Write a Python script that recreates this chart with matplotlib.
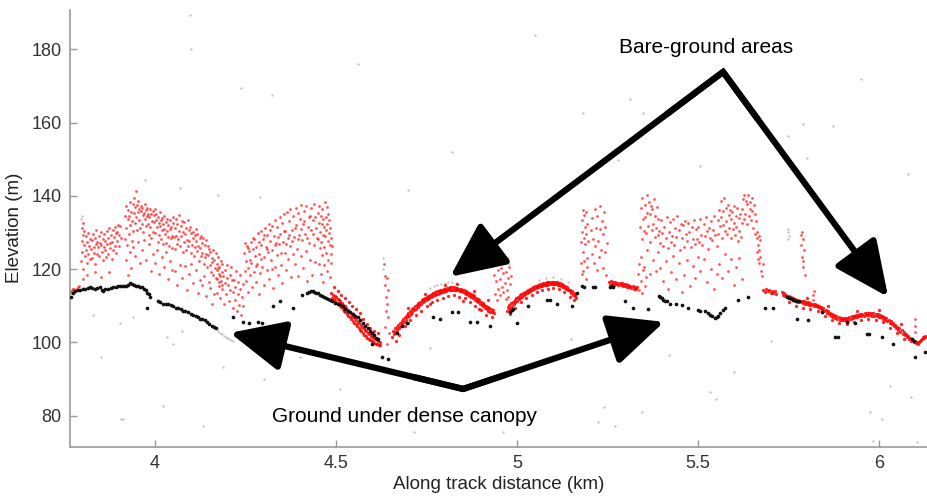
import matplotlib
matplotlib.use("Agg")
import matplotlib.pyplot as plt
import numpy as np

plt.rcParams['font.family'] = ['Liberation Sans', 'DejaVu Sans']

# ---- photon returns: (along-track km, elevation m) ----
ground_pts = [
    (3.768, 112.5), (3.773, 113.6), (3.779, 113.9), (3.786, 114.2), (3.793, 114.4), (3.800, 114.7),
    (3.807, 114.7), (3.814, 114.9), (3.820, 115.0), (3.827, 114.8), (3.834, 114.7), (3.841, 114.9),
    (3.848, 115.0), (3.853, 114.4), (3.856, 113.9), (3.862, 114.5), (3.870, 114.7), (3.877, 114.9),
    (3.884, 115.0), (3.891, 115.1), (3.898, 115.3), (3.904, 115.4), (3.909, 115.5), (3.915, 115.4),
    (3.920, 115.5), (3.926, 115.8), (3.931, 116.1), (3.937, 115.9), (3.942, 115.8), (3.948, 115.5),
    (3.953, 115.3), (3.959, 115.1), (3.964, 115.0), (3.970, 114.6), (3.975, 114.2), (3.979, 113.6),
    (3.983, 113.1), (3.986, 112.3), (3.978, 109.5), (4.008, 111.2), (4.015, 110.9), (4.022, 110.6),
    (4.029, 110.5), (4.036, 110.4), (4.043, 110.1), (4.050, 109.8), (4.057, 109.5), (4.064, 109.3),
    (4.071, 109.0), (4.077, 108.7), (4.084, 108.5), (4.091, 108.2), (4.098, 107.8), (4.105, 107.4),
    (4.112, 107.1), (4.119, 106.8), (4.125, 106.5), (4.130, 106.3), (4.137, 106.0), (4.144, 105.7),
    (4.150, 105.1), (4.157, 104.6), (4.163, 104.2), (4.169, 103.8),
    (4.215, 106.8), (4.243, 105.7), (4.260, 105.4), (4.285, 105.7), (4.296, 105.4), (4.326, 109.8),
    (4.345, 111.2), (4.381, 109.5), (4.406, 112.8),
    (4.420, 113.4), (4.425, 113.7), (4.430, 113.9), (4.435, 113.9), (4.440, 113.8), (4.445, 113.6),
    (4.450, 113.4), (4.455, 113.0), (4.460, 112.6), (4.466, 112.3), (4.472, 112.0), (4.478, 111.9),
    (4.483, 111.7), (4.490, 111.2), (4.497, 110.8), (4.504, 110.6), (4.511, 110.4), (4.518, 109.8),
    (4.525, 109.2), (4.532, 108.7), (4.539, 108.4), (4.546, 107.8), (4.553, 107.3), (4.561, 106.8),
    (4.567, 106.0), (4.574, 105.3), (4.580, 104.6), (4.587, 103.9), (4.593, 103.2), (4.599, 102.5),
    (4.605, 101.9), (4.611, 101.3), (4.616, 100.8),
    (4.599, 99.5), (4.627, 95.9), (4.644, 95.4),
    (4.669, 102.7), (4.682, 104.4), (4.696, 105.4), (4.768, 106.8), (4.787, 106.5), (4.820, 108.4),
    (4.837, 108.4), (4.870, 105.7), (4.890, 105.7), (4.925, 104.6),
    (4.981, 108.4), (4.985, 108.8), (4.989, 109.0), (5.000, 105.4), (5.030, 109.8), (5.083, 111.7),
    (5.091, 111.7), (5.110, 110.6), (5.152, 109.8), (5.166, 113.6), (5.180, 115.3), (5.184, 115.1),
    (5.210, 115.0), (5.214, 115.1), (5.258, 115.2), (5.262, 115.3), (5.266, 115.0),
    (5.298, 111.2), (5.320, 109.5), (5.362, 109.0), (5.393, 112.6), (5.396, 112.3), (5.399, 112.0),
    (5.403, 111.7), (5.409, 111.4), (5.414, 111.2), (5.423, 110.4), (5.439, 110.4), (5.456, 110.1),
    (5.472, 109.5), (5.500, 108.9), (5.506, 108.7), (5.519, 108.7), (5.528, 107.9), (5.534, 107.4),
    (5.539, 107.1), (5.546, 106.6), (5.552, 106.8), (5.556, 107.3), (5.561, 107.9), (5.568, 108.8),
    (5.575, 109.5), (5.610, 111.7), (5.638, 112.3),
    (5.685, 109.5), (5.707, 109.5),
    (5.746, 112.3), (5.750, 112.1), (5.754, 112.0), (5.758, 111.8), (5.762, 111.7), (5.766, 111.5),
    (5.771, 111.4), (5.775, 111.3), (5.779, 111.2),
    (5.773, 106.3), (5.804, 106.0), (5.843, 108.4), (5.878, 101.4), (5.887, 101.4), (5.912, 105.7),
    (5.934, 105.4), (5.967, 102.2), (5.972, 102.2), (6.008, 101.6), (6.039, 99.5), (6.091, 100.8),
    (6.097, 100.5), (6.099, 95.9), (6.127, 97.3),
]

canopy_west = [
    (3.766, 113.5), (3.768, 114.0), (3.770, 114.0), (3.772, 114.5), (3.774, 114.5),
    (3.782, 114.5), (3.786, 115.0), (3.790, 115.5), (3.800, 117.2), (3.812, 118.4), (3.833, 119.3),
    (3.850, 117.8), (3.872, 119.1),
    (3.795, 122.3), (3.797, 127.6), (3.798, 131.2), (3.799, 124.8), (3.800, 129.4), (3.801, 132.5),
    (3.802, 120.1), (3.803, 126.7), (3.805, 130.3), (3.806, 123.5), (3.808, 128.9), (3.810, 125.2),
    (3.811, 121.6), (3.813, 127.3), (3.815, 124.1), (3.816, 129.8), (3.818, 126.4), (3.820, 122.7),
    (3.821, 128.2), (3.823, 125.6), (3.825, 127.9), (3.826, 123.1), (3.828, 129.5), (3.830, 126.0),
    (3.831, 124.4), (3.833, 128.6), (3.835, 121.3), (3.836, 126.8), (3.838, 130.7), (3.840, 124.2),
    (3.841, 127.5), (3.843, 125.9), (3.845, 129.1), (3.846, 123.7), (3.848, 127.2), (3.850, 126.5),
    (3.851, 130.1), (3.853, 124.6), (3.855, 128.3), (3.856, 122.4), (3.858, 126.1), (3.860, 129.6),
    (3.861, 125.3), (3.863, 127.8), (3.865, 123.2), (3.866, 130.4), (3.868, 126.9), (3.870, 128.5),
    (3.871, 124.0), (3.873, 131.3), (3.875, 127.1), (3.876, 125.7), (3.878, 129.2), (3.880, 122.8),
    (3.881, 127.4), (3.883, 130.6), (3.885, 125.1), (3.886, 128.7), (3.888, 131.5), (3.890, 126.2),
    (3.891, 129.9), (3.893, 124.5), (3.895, 130.0), (3.896, 127.7), (3.898, 132.1), (3.900, 126.3),
    (3.901, 129.3), (3.903, 131.8), (3.905, 128.4),
    (3.917, 128.2), (3.918, 134.6), (3.920, 131.3), (3.921, 137.1), (3.923, 126.5), (3.924, 133.8),
    (3.926, 136.2), (3.927, 129.7), (3.929, 134.4), (3.930, 138.3), (3.932, 131.9), (3.933, 135.5),
    (3.935, 127.6), (3.936, 133.1), (3.938, 137.7), (3.939, 130.4), (3.941, 135.2), (3.942, 139.4),
    (3.944, 132.6), (3.945, 136.9), (3.947, 134.1), (3.948, 141.2), (3.950, 137.4), (3.951, 130.8),
    (3.953, 135.7), (3.954, 138.6), (3.956, 133.3), (3.957, 136.5), (3.959, 131.1), (3.960, 135.9),
    (3.962, 137.2), (3.963, 132.4), (3.965, 136.7), (3.966, 134.8), (3.968, 130.2), (3.969, 135.3),
    (3.971, 137.9), (3.972, 133.6), (3.974, 136.1), (3.975, 131.7), (3.977, 134.5), (3.978, 136.8),
    (3.980, 132.2), (3.981, 135.0), (3.983, 129.4), (3.984, 134.3), (3.986, 136.4), (3.987, 131.5),
    (3.989, 134.9), (3.990, 128.6), (3.992, 133.2), (3.993, 135.8), (3.995, 130.1), (3.996, 134.7),
    (3.998, 132.8), (3.999, 136.3), (4.001, 129.9), (4.002, 133.5), (4.004, 135.1), (4.005, 131.4),
    (4.007, 127.3), (4.008, 134.2), (4.010, 132.7), (4.011, 129.2), (4.013, 135.6), (4.014, 131.8),
    (4.016, 133.4), (4.017, 128.1), (4.019, 134.0), (4.020, 130.6), (4.022, 132.3), (4.023, 126.8),
    (4.025, 131.0), (4.026, 134.6), (4.028, 129.5), (4.029, 132.9), (4.031, 127.2), (4.032, 133.7),
    (4.034, 130.3), (4.035, 128.8), (4.037, 132.1), (4.038, 126.4), (4.040, 130.9), (4.041, 133.3),
    (4.043, 128.5), (4.044, 131.6), (4.046, 125.7), (4.047, 129.1), (4.049, 132.5),
    (3.920, 122.4), (3.925, 118.3), (3.930, 124.7), (3.934, 120.2), (3.940, 126.1), (3.946, 123.6),
    (3.952, 127.4), (3.958, 121.8), (3.964, 125.3), (3.970, 128.0), (3.976, 122.5), (3.982, 126.9),
    (3.988, 119.4), (3.994, 124.1), (4.000, 121.7), (4.006, 125.2), (4.012, 118.6), (4.018, 123.3),
    (4.024, 120.5), (4.030, 124.8), (4.036, 117.4), (4.042, 122.2), (4.048, 119.7),
]

canopy_slope = [
    (4.050, 134.3), (4.052, 128.7), (4.054, 131.2), (4.055, 125.5), (4.057, 133.6), (4.059, 129.1),
    (4.060, 126.8), (4.062, 132.4), (4.064, 128.2), (4.066, 134.7), (4.067, 130.5), (4.069, 126.3),
    (4.071, 131.8), (4.072, 128.9), (4.074, 133.1), (4.076, 124.6), (4.078, 130.2), (4.079, 127.4),
    (4.081, 132.9), (4.083, 129.6), (4.085, 125.1), (4.086, 131.3), (4.088, 128.0), (4.090, 133.5),
    (4.091, 126.2), (4.093, 130.8), (4.095, 127.7), (4.097, 131.4), (4.098, 124.3), (4.100, 129.8),
    (4.102, 126.6), (4.104, 130.1), (4.105, 128.4), (4.107, 123.5), (4.109, 129.3), (4.110, 126.1),
    (4.112, 131.0), (4.114, 127.6), (4.116, 124.9), (4.117, 129.7), (4.119, 126.4), (4.121, 122.2),
    (4.123, 128.5), (4.124, 125.8), (4.126, 129.0), (4.128, 123.7), (4.130, 127.1), (4.131, 124.4),
    (4.133, 128.6), (4.135, 121.5), (4.137, 126.7), (4.138, 123.2), (4.140, 127.9), (4.142, 124.1),
    (4.144, 120.6), (4.145, 126.3), (4.147, 123.8), (4.149, 125.4), (4.151, 121.1), (4.152, 124.7),
    (4.154, 119.3), (4.156, 123.0), (4.158, 121.9), (4.160, 125.2), (4.161, 118.4), (4.163, 122.6),
    (4.165, 120.3), (4.167, 124.5), (4.168, 117.7), (4.170, 121.4), (4.172, 119.8), (4.174, 123.4),
    (4.176, 116.5), (4.178, 120.7), (4.180, 118.1), (4.182, 122.3), (4.184, 115.6), (4.186, 119.2),
    (4.055, 119.4), (4.060, 115.7), (4.068, 121.2), (4.075, 117.5), (4.082, 120.8), (4.088, 114.3),
    (4.095, 118.6), (4.100, 121.3), (4.106, 116.2), (4.112, 119.7), (4.118, 113.4), (4.124, 117.1),
    (4.130, 115.8), (4.136, 118.2), (4.142, 112.6), (4.148, 116.4), (4.153, 114.9), (4.158, 110.5),
    (4.164, 113.2),
    (4.170, 117.3), (4.172, 113.6), (4.174, 120.2), (4.176, 115.4), (4.178, 118.8), (4.180, 112.1),
    (4.182, 116.7), (4.184, 121.3), (4.186, 114.5), (4.188, 118.2), (4.190, 110.6), (4.192, 116.1),
    (4.194, 119.7), (4.196, 113.3), (4.198, 117.5), (4.200, 121.0), (4.202, 115.8), (4.204, 111.4),
    (4.206, 118.4), (4.208, 114.2), (4.210, 120.6), (4.212, 116.9), (4.214, 109.3), (4.216, 113.8),
    (4.218, 117.1), (4.220, 111.7), (4.222, 115.2), (4.224, 119.4), (4.226, 108.6), (4.228, 113.1),
    (4.230, 116.5), (4.232, 110.2), (4.234, 114.7), (4.236, 118.3), (4.238, 107.5), (4.240, 112.4),
    (4.242, 115.9), (4.244, 109.8),
]

canopy_ridge = [
    (4.246, 124.3), (4.248, 119.6), (4.250, 122.1), (4.252, 116.8), (4.254, 126.4), (4.256, 120.2),
    (4.258, 113.7), (4.260, 124.9), (4.262, 118.3), (4.264, 127.5), (4.266, 121.8), (4.268, 115.1),
    (4.270, 125.6), (4.272, 119.2), (4.274, 128.3), (4.276, 123.7), (4.278, 116.4), (4.280, 126.1),
    (4.282, 121.5), (4.284, 129.8), (4.286, 113.3), (4.288, 124.2), (4.290, 118.9), (4.292, 130.4),
    (4.294, 126.7), (4.296, 120.5), (4.298, 128.1), (4.300, 115.6), (4.302, 123.3), (4.304, 131.2),
    (4.306, 126.0), (4.308, 119.7), (4.310, 129.4), (4.312, 124.6), (4.314, 132.3), (4.316, 117.2),
    (4.318, 127.8), (4.320, 122.4), (4.322, 131.7), (4.324, 125.3), (4.326, 114.8), (4.328, 129.1),
    (4.330, 120.6), (4.332, 133.5), (4.334, 127.2), (4.336, 123.9), (4.338, 131.4), (4.340, 118.5),
    (4.342, 126.8), (4.344, 134.2), (4.346, 129.6), (4.348, 121.1), (4.350, 132.7), (4.352, 116.3),
    (4.354, 127.4), (4.356, 134.9), (4.358, 124.5), (4.360, 130.3), (4.362, 119.8), (4.364, 135.6),
    (4.366, 128.4), (4.368, 122.7), (4.370, 133.1), (4.372, 126.2), (4.374, 136.3), (4.376, 117.9),
    (4.378, 130.6), (4.380, 124.1), (4.382, 134.5), (4.384, 128.8), (4.386, 121.4), (4.388, 136.7),
    (4.390, 131.9), (4.392, 125.5), (4.394, 135.2), (4.396, 118.1), (4.398, 129.3), (4.400, 133.8),
    (4.402, 123.6), (4.404, 137.4), (4.406, 127.9), (4.408, 132.2), (4.410, 120.3), (4.412, 135.8),
    (4.414, 129.5), (4.416, 125.0), (4.418, 137.1), (4.420, 116.7), (4.422, 131.6), (4.424, 134.3),
    (4.426, 127.1), (4.428, 122.5), (4.430, 136.6), (4.432, 130.7), (4.434, 118.4), (4.436, 133.4),
    (4.438, 126.5), (4.440, 137.8), (4.442, 121.9), (4.444, 131.1), (4.446, 128.6),
    (4.249, 127.2), (4.257, 125.8), (4.263, 122.6), (4.271, 128.4), (4.279, 120.9), (4.287, 127.3),
    (4.293, 122.8), (4.301, 129.2), (4.309, 125.4), (4.317, 130.8), (4.323, 120.1), (4.331, 126.6),
    (4.339, 128.7), (4.347, 124.3), (4.355, 130.5), (4.363, 126.9), (4.371, 129.4), (4.379, 127.6),
    (4.387, 131.3), (4.395, 128.2), (4.403, 130.9), (4.411, 133.2), (4.419, 128.5), (4.427, 134.6),
    (4.435, 129.7), (4.443, 134.1),
    (4.450, 135.4), (4.451, 128.3), (4.452, 132.7), (4.453, 121.5), (4.454, 137.2), (4.455, 125.8),
    (4.456, 130.1), (4.457, 134.6), (4.458, 118.7), (4.459, 127.4), (4.460, 132.2), (4.461, 123.9),
    (4.462, 136.5), (4.463, 129.3), (4.464, 116.6), (4.465, 133.8), (4.466, 126.1), (4.467, 131.5),
    (4.468, 121.2), (4.469, 138.3), (4.470, 128.9), (4.471, 134.1), (4.472, 124.4), (4.473, 130.7),
    (4.474, 136.9), (4.475, 119.5), (4.476, 132.4), (4.477, 127.7), (4.478, 135.1), (4.479, 122.6),
    (4.480, 129.9), (4.481, 133.3), (4.482, 126.7), (4.483, 131.2), (4.484, 117.8), (4.485, 128.5),
    (4.486, 124.2), (4.487, 121.6), (4.488, 126.4),
]

canopy_middle = [
    (4.632, 121.4), (4.634, 118.2), (4.636, 115.7), (4.638, 112.3), (4.640, 117.6), (4.642, 110.4),
    (4.644, 106.8), (4.646, 102.5), (4.636, 104.1), (4.640, 99.6), (4.638, 108.7), (4.644, 114.3),
    (4.936, 118.4), (4.938, 113.2), (4.940, 121.3), (4.942, 116.7), (4.944, 111.5), (4.946, 119.8),
    (4.948, 114.6), (4.950, 122.1), (4.952, 117.3), (4.954, 112.9), (4.956, 120.4), (4.958, 115.2),
    (4.960, 118.9), (4.962, 113.7), (4.964, 121.6), (4.966, 116.1), (4.968, 111.8), (4.970, 119.2),
    (4.972, 114.4), (4.974, 117.7), (4.976, 112.5), (4.978, 120.6), (4.980, 115.9), (4.982, 118.1),
    (5.176, 127.3), (5.177, 121.8), (5.178, 133.4), (5.179, 118.6), (5.180, 130.2), (5.181, 124.7),
    (5.182, 136.1), (5.183, 119.4), (5.184, 128.5), (5.185, 134.8), (5.186, 122.3), (5.187, 131.6),
    (5.188, 126.9), (5.189, 117.2), (5.190, 135.5), (5.191, 129.7), (5.192, 123.1), (5.193, 132.4),
    (5.194, 120.5), (5.196, 127.8), (5.204, 130.6), (5.206, 124.2), (5.208, 133.9), (5.210, 128.1),
    (5.212, 121.7), (5.214, 136.4), (5.216, 126.3), (5.218, 131.2), (5.220, 119.8), (5.222, 134.5),
    (5.224, 127.6), (5.226, 123.4), (5.228, 137.2), (5.230, 130.9), (5.232, 125.3), (5.234, 133.1),
    (5.236, 120.4), (5.238, 129.6), (5.240, 135.7), (5.242, 124.8), (5.244, 131.4), (5.246, 118.3),
    (5.248, 127.1),
]

canopy_east = [
    (5.333, 118.6), (5.336, 114.2), (5.338, 121.5), (5.341, 116.8), (5.345, 113.4), (5.348, 119.7),
    (5.352, 115.3), (5.356, 117.9),
    (5.340, 131.4), (5.342, 136.7), (5.344, 128.2), (5.346, 139.5), (5.348, 133.8), (5.350, 130.3),
    (5.352, 137.6), (5.354, 134.1), (5.356, 129.9), (5.358, 140.2), (5.360, 135.4), (5.362, 131.7),
    (5.364, 138.3), (5.366, 127.5), (5.368, 134.9), (5.370, 137.1), (5.372, 130.6), (5.374, 136.4),
    (5.376, 132.2), (5.378, 139.1), (5.380, 128.7), (5.382, 134.5), (5.384, 131.1), (5.386, 136.9),
    (5.388, 129.4), (5.390, 133.6), (5.343, 123.3), (5.351, 120.6), (5.359, 125.2), (5.367, 118.8),
    (5.375, 122.4), (5.383, 119.5), (5.389, 124.7),
    (5.392, 130.5), (5.395, 127.2), (5.398, 133.4), (5.401, 129.8), (5.404, 126.3), (5.407, 131.6),
    (5.410, 128.4), (5.413, 134.1), (5.416, 125.7), (5.419, 130.2), (5.422, 132.9), (5.425, 127.5),
    (5.428, 129.1), (5.431, 133.7), (5.434, 126.6), (5.437, 131.3), (5.440, 128.8), (5.443, 134.4),
    (5.446, 130.7), (5.449, 125.2), (5.452, 132.3), (5.455, 128.6), (5.458, 131.9), (5.461, 126.1),
    (5.464, 133.2), (5.467, 129.5), (5.470, 127.8), (5.473, 132.6), (5.476, 130.1), (5.479, 125.9),
    (5.482, 131.4), (5.485, 128.3), (5.488, 133.5), (5.491, 126.8), (5.494, 130.9), (5.497, 128.2),
    (5.396, 120.4), (5.403, 116.8), (5.410, 122.3), (5.418, 114.6), (5.425, 119.1), (5.432, 123.5),
    (5.440, 117.2), (5.447, 121.7), (5.455, 113.8), (5.462, 118.3), (5.470, 122.6), (5.477, 115.4),
    (5.485, 120.9), (5.492, 117.6), (5.499, 123.2),
    (5.500, 131.6), (5.503, 127.3), (5.506, 133.8), (5.509, 129.2), (5.512, 126.7), (5.515, 132.4),
    (5.518, 128.9), (5.521, 134.3), (5.524, 130.5), (5.527, 125.6), (5.530, 131.1), (5.533, 128.4),
    (5.536, 133.2), (5.539, 127.9), (5.542, 130.8), (5.545, 134.6), (5.548, 129.3), (5.551, 126.2),
    (5.505, 119.5), (5.515, 122.8), (5.525, 116.4), (5.535, 120.1), (5.545, 114.7), (5.552, 118.6),
    (5.554, 133.4), (5.556, 129.7), (5.558, 136.2), (5.560, 131.8), (5.562, 138.5), (5.564, 134.3),
    (5.566, 128.6), (5.568, 135.9), (5.570, 132.1), (5.572, 139.3), (5.574, 130.4), (5.576, 136.7),
    (5.578, 133.2), (5.580, 129.5), (5.582, 137.6), (5.584, 134.8), (5.586, 131.3), (5.588, 136.1),
    (5.590, 128.4), (5.592, 133.7), (5.594, 135.5), (5.596, 130.9), (5.598, 137.2), (5.600, 132.6),
    (5.602, 129.2), (5.604, 134.4), (5.606, 131.6), (5.608, 136.8), (5.610, 127.7), (5.612, 133.9),
    (5.614, 130.3), (5.616, 135.1), (5.618, 128.8), (5.620, 132.5),
    (5.558, 121.3), (5.566, 117.6), (5.574, 124.2), (5.582, 119.4), (5.590, 122.7), (5.598, 115.8),
    (5.606, 120.5), (5.614, 123.1), (5.620, 117.3),
    (5.622, 136.4), (5.624, 139.2), (5.626, 133.7), (5.628, 140.3), (5.630, 135.1), (5.632, 138.6),
    (5.634, 132.4), (5.636, 137.8), (5.638, 140.1), (5.640, 134.6), (5.642, 138.2), (5.644, 136.5),
    (5.646, 133.3), (5.648, 139.4), (5.650, 135.8), (5.652, 131.2), (5.654, 137.5), (5.656, 134.9),
    (5.658, 129.6), (5.660, 133.1),
    (5.662, 128.4), (5.663, 124.7), (5.664, 130.2), (5.665, 126.5), (5.666, 122.8), (5.667, 129.1),
    (5.668, 125.3), (5.669, 121.6), (5.670, 127.9), (5.672, 123.2), (5.674, 119.5), (5.676, 118.1),
    (5.678, 121.4),
    (5.783, 129.3), (5.785, 126.7), (5.787, 123.4), (5.789, 128.1), (5.791, 120.6), (5.793, 125.2),
    (5.795, 118.5), (5.786, 130.2), (5.790, 122.3), (5.817, 113.0), (5.818, 111.5), (5.819, 114.0),
    (6.098, 106.5), (6.099, 104.5), (6.100, 102.8),
]

bare_slope = [
    (4.486, 113.5), (4.489, 112.2), (4.491, 113.0), (4.494, 111.8), (4.496, 112.6), (4.498, 111.2),
    (4.500, 112.3), (4.502, 110.8), (4.504, 111.9), (4.506, 110.5), (4.508, 111.6), (4.510, 110.0),
    (4.512, 111.2), (4.514, 109.6), (4.516, 110.7), (4.518, 109.1), (4.520, 110.3), (4.522, 108.6),
    (4.524, 109.8), (4.526, 108.2), (4.528, 109.3), (4.530, 107.7), (4.532, 108.9), (4.534, 107.2),
    (4.536, 108.4), (4.538, 106.8), (4.540, 108.0), (4.542, 106.3), (4.544, 107.5), (4.546, 105.8),
    (4.548, 107.0), (4.550, 105.3), (4.552, 106.6), (4.554, 104.9), (4.556, 106.1), (4.558, 104.4),
    (4.560, 105.6), (4.562, 103.9), (4.564, 105.2), (4.566, 103.5), (4.568, 104.7), (4.570, 103.0),
    (4.572, 104.3), (4.574, 102.6), (4.576, 103.8), (4.578, 102.1), (4.580, 103.4), (4.582, 101.7),
    (4.584, 103.0), (4.586, 101.3), (4.588, 102.6), (4.590, 100.9), (4.592, 102.2), (4.594, 100.6),
    (4.596, 101.8), (4.598, 100.3), (4.600, 101.5), (4.602, 100.0), (4.604, 101.2), (4.606, 99.8),
    (4.608, 100.9), (4.610, 99.6), (4.612, 100.6), (4.614, 99.5), (4.616, 100.3), (4.618, 99.3),
    (4.620, 100.1), (4.622, 99.2),
    (4.495, 115.0), (4.505, 114.0), (4.515, 113.0), (4.525, 112.0), (4.535, 111.0), (4.545, 110.0),
    (4.555, 109.0), (4.565, 108.0), (4.575, 106.5), (4.585, 105.0), (4.595, 104.0), (4.605, 103.0),
    (4.615, 102.5),
]

bare_arc_west = [
    (4.655, 101.5), (4.657, 103.0), (4.660, 102.4), (4.662, 103.8), (4.664, 102.9), (4.667, 104.2),
    (4.669, 103.4), (4.671, 104.8), (4.674, 104.0), (4.676, 105.3), (4.678, 104.6), (4.681, 105.9),
    (4.683, 105.1), (4.685, 106.4), (4.688, 105.7), (4.690, 106.9), (4.692, 106.2), (4.695, 107.4),
    (4.697, 106.8), (4.699, 108.0), (4.702, 107.3), (4.704, 108.5), (4.706, 107.8), (4.709, 109.0),
    (4.711, 108.3), (4.713, 109.4), (4.716, 108.8), (4.718, 109.9), (4.720, 109.2), (4.723, 110.3),
    (4.725, 109.7), (4.727, 110.7), (4.730, 110.1), (4.732, 111.1), (4.734, 110.5), (4.737, 111.5),
    (4.739, 110.9), (4.741, 111.8), (4.744, 111.2), (4.746, 112.1), (4.748, 111.6), (4.751, 112.4),
    (4.753, 111.9), (4.755, 112.7), (4.758, 112.2), (4.760, 113.0), (4.762, 112.4), (4.765, 113.3),
    (4.767, 112.7), (4.769, 113.5), (4.772, 112.9), (4.774, 113.7), (4.776, 113.1), (4.779, 113.9),
    (4.781, 113.3), (4.783, 114.1), (4.786, 113.5), (4.788, 114.3), (4.790, 113.7), (4.793, 114.4),
    (4.795, 113.8), (4.797, 114.6), (4.800, 114.0), (4.802, 114.7), (4.804, 114.1), (4.807, 114.8),
    (4.809, 114.2), (4.811, 114.9), (4.814, 114.3), (4.816, 115.0), (4.818, 114.4), (4.821, 115.0),
    (4.823, 114.4), (4.825, 115.0), (4.828, 114.3), (4.830, 114.9), (4.832, 114.3), (4.835, 114.8),
    (4.837, 114.2), (4.839, 114.7), (4.842, 114.0), (4.844, 114.6), (4.846, 113.9), (4.849, 114.4),
    (4.851, 113.7), (4.853, 114.2), (4.856, 113.5), (4.858, 114.0), (4.860, 113.2), (4.863, 113.8),
    (4.865, 113.0), (4.867, 113.5), (4.870, 112.7), (4.872, 113.2), (4.874, 112.4), (4.877, 112.9),
    (4.879, 112.0), (4.881, 112.6), (4.884, 111.7), (4.886, 112.2), (4.888, 111.3), (4.891, 111.9),
    (4.893, 110.9), (4.895, 111.5), (4.898, 110.5), (4.900, 111.1), (4.902, 110.1), (4.905, 110.7),
    (4.907, 109.8), (4.909, 110.3), (4.912, 109.4), (4.914, 110.0), (4.916, 109.0), (4.919, 109.6),
    (4.921, 108.7), (4.923, 109.3), (4.926, 108.4), (4.928, 109.0), (4.930, 108.2), (4.933, 108.8),
    (4.935, 108.0),
    (4.665, 100.5), (4.675, 102.0), (4.690, 104.5), (4.705, 106.0), (4.720, 107.5), (4.735, 108.5),
    (4.750, 109.8), (4.765, 111.0), (4.780, 111.5), (4.795, 112.0), (4.810, 112.6), (4.825, 112.8),
    (4.840, 112.5), (4.855, 112.0), (4.870, 111.0), (4.885, 110.0), (4.900, 108.8), (4.915, 107.5),
    (4.930, 106.8), (4.700, 105.2), (4.760, 110.5), (4.850, 111.2), (4.895, 109.0),
    (4.700, 109.5), (4.745, 113.2), (4.800, 115.8), (4.835, 116.0), (4.880, 114.0), (4.920, 111.5),
]

bare_arc_east = [
    (4.972, 108.6), (4.974, 109.7), (4.977, 109.0), (4.979, 110.2), (4.981, 109.5), (4.984, 110.7),
    (4.986, 110.0), (4.988, 111.1), (4.991, 110.5), (4.993, 111.6), (4.995, 110.9), (4.998, 112.0),
    (5.000, 111.4), (5.002, 112.4), (5.005, 111.8), (5.007, 112.8), (5.009, 112.2), (5.012, 113.1),
    (5.014, 112.5), (5.016, 113.4), (5.019, 112.9), (5.021, 113.7), (5.023, 113.2), (5.026, 114.0),
    (5.028, 113.4), (5.030, 114.3), (5.033, 113.7), (5.035, 114.6), (5.037, 114.0), (5.040, 114.8),
    (5.042, 114.3), (5.044, 115.1), (5.047, 114.5), (5.049, 115.3), (5.051, 114.8), (5.054, 115.5),
    (5.056, 115.0), (5.058, 115.7), (5.061, 115.2), (5.063, 115.9), (5.065, 115.3), (5.068, 116.0),
    (5.070, 115.5), (5.072, 116.2), (5.075, 115.6), (5.077, 116.3), (5.079, 115.7), (5.082, 116.4),
    (5.084, 115.8), (5.086, 116.5), (5.089, 115.9), (5.091, 116.6), (5.093, 116.0), (5.096, 116.6),
    (5.098, 116.0), (5.100, 116.6), (5.103, 116.0), (5.105, 116.5), (5.107, 115.9), (5.110, 116.4),
    (5.112, 115.8), (5.114, 116.3), (5.117, 115.6), (5.119, 116.1), (5.121, 115.4), (5.124, 115.9),
    (5.126, 115.2), (5.128, 115.6), (5.131, 114.9), (5.133, 115.3), (5.135, 114.6), (5.138, 115.0),
    (5.140, 114.3), (5.142, 114.7), (5.145, 113.9), (5.147, 114.3), (5.149, 113.5), (5.152, 113.9),
    (5.154, 113.0), (5.156, 113.4), (5.159, 112.6), (5.161, 112.9), (5.163, 112.2),
    (4.980, 107.8), (4.995, 109.5), (5.010, 111.0), (5.025, 112.2), (5.040, 113.0), (5.055, 113.8),
    (5.070, 114.3), (5.085, 114.5), (5.100, 114.8), (5.115, 114.6), (5.130, 113.8), (5.145, 112.5),
    (5.158, 111.5),
    (5.253, 116.5), (5.256, 115.8), (5.259, 116.7), (5.262, 116.0), (5.265, 116.4), (5.268, 115.7),
    (5.271, 116.6), (5.274, 115.9), (5.277, 116.3), (5.280, 115.6), (5.283, 116.2), (5.286, 115.8),
    (5.289, 116.1), (5.292, 115.4), (5.295, 116.0), (5.298, 115.5), (5.301, 115.9), (5.304, 115.2),
    (5.307, 115.7), (5.310, 115.0), (5.313, 115.5), (5.316, 114.9), (5.319, 115.3), (5.322, 114.7),
    (5.325, 115.1), (5.328, 114.6), (5.331, 115.0),
]

bare_east = [
    (5.680, 114.3), (5.684, 113.8), (5.688, 114.5), (5.692, 113.9), (5.696, 114.2), (5.700, 113.6),
    (5.704, 114.1), (5.708, 113.5), (5.712, 113.9), (5.716, 113.3),
    (5.732, 113.7), (5.735, 113.0), (5.738, 113.4), (5.741, 112.7), (5.744, 113.0), (5.747, 112.3),
    (5.750, 112.6), (5.753, 112.0), (5.756, 112.4), (5.759, 111.8), (5.762, 112.1), (5.765, 111.5),
    (5.768, 111.8), (5.771, 111.2), (5.774, 111.6), (5.777, 111.0), (5.780, 111.4), (5.783, 110.9),
    (5.786, 111.3), (5.789, 110.8), (5.792, 111.2), (5.795, 110.6), (5.798, 111.0), (5.801, 110.5),
    (5.804, 110.9), (5.807, 110.3), (5.810, 110.7), (5.813, 110.2), (5.816, 110.6), (5.819, 110.0),
    (5.822, 110.5), (5.825, 109.9), (5.828, 110.3), (5.831, 109.7), (5.834, 110.0), (5.837, 109.3),
    (5.840, 109.7), (5.843, 108.9), (5.846, 109.3), (5.849, 108.5), (5.852, 108.9), (5.855, 108.1),
    (5.858, 108.5), (5.861, 107.7), (5.864, 108.1), (5.867, 107.3), (5.870, 107.8), (5.873, 107.0),
    (5.876, 107.4), (5.879, 106.7), (5.882, 107.1), (5.885, 106.4), (5.888, 106.9), (5.891, 106.2),
    (5.894, 106.7), (5.897, 106.1), (5.900, 106.6), (5.903, 106.0), (5.906, 106.6), (5.909, 106.1),
    (5.912, 106.7), (5.915, 106.2), (5.918, 106.9), (5.921, 106.4), (5.924, 107.1), (5.927, 106.6),
    (5.930, 107.3), (5.933, 106.8), (5.936, 107.5), (5.939, 107.0), (5.942, 107.6), (5.945, 107.1),
    (5.948, 107.7), (5.951, 107.2), (5.954, 107.8), (5.957, 107.3), (5.960, 107.9), (5.963, 107.4),
    (5.966, 108.0), (5.969, 107.4), (5.972, 108.0), (5.975, 107.4), (5.978, 108.0), (5.981, 107.3),
    (5.984, 107.9), (5.987, 107.2), (5.990, 107.8), (5.993, 107.1), (5.996, 107.7), (5.999, 107.0),
    (6.002, 107.5), (6.005, 106.8), (6.008, 107.3), (6.011, 106.5), (6.014, 107.0), (6.017, 106.2),
    (6.020, 106.6), (6.023, 105.8), (6.026, 106.2), (6.029, 105.4), (6.032, 105.8), (6.035, 104.9),
    (6.038, 105.3), (6.041, 104.4), (6.044, 104.8), (6.047, 103.9), (6.050, 104.3), (6.053, 103.4),
    (6.056, 103.8), (6.059, 102.9), (6.062, 103.3), (6.065, 102.4), (6.068, 102.8), (6.071, 101.9),
    (6.074, 102.3), (6.077, 101.4), (6.080, 101.8), (6.083, 100.9), (6.086, 101.3), (6.089, 100.5),
    (6.092, 100.8), (6.095, 100.1), (6.098, 100.4), (6.101, 99.8), (6.104, 100.1), (6.107, 99.6),
    (6.110, 100.0), (6.113, 100.3), (6.116, 100.7), (6.119, 101.0), (6.122, 101.4), (6.125, 101.2),
    (6.128, 101.7), (6.131, 101.5), (6.134, 101.9),
    (5.750, 111.0), (5.770, 110.0), (5.790, 109.5), (5.810, 109.0), (5.830, 108.5), (5.850, 107.2),
    (5.870, 106.0), (5.890, 105.2), (5.910, 105.0), (5.930, 105.6), (5.950, 106.0), (5.970, 106.4),
    (5.990, 106.0), (6.010, 105.5), (6.030, 104.0), (6.050, 102.5), (6.070, 100.8), (5.800, 112.0),
    (5.860, 109.8), (5.940, 108.6), (6.000, 108.8), (6.060, 105.0),
]

noise_pts = [
    (4.097, 189.4), (4.099, 180.1), (4.238, 169.5), (4.323, 167.6), (3.972, 144.4), (4.069, 142.2),
    (4.174, 140.1), (4.290, 139.8), (5.182, 162.7), (5.312, 166.5), (5.348, 162.7), (5.486, 168.9),
    (5.506, 148.0), (5.749, 156.4), (5.790, 159.7), (5.801, 150.4), (5.873, 159.1), (5.279, 149.9),
    (4.560, 176.0), (4.820, 152.0), (5.050, 184.0), (4.700, 141.5), (5.950, 172.0), (6.080, 146.0),
    (3.829, 107.6), (3.939, 106.8), (3.903, 105.4), (4.033, 101.6), (4.050, 99.5), (4.075, 103.0),
    (4.188, 93.2), (4.022, 82.6), (3.912, 79.0), (4.133, 77.1), (4.511, 87.2), (3.906, 79.0),
    (5.224, 78.2), (5.271, 77.1), (5.345, 80.9), (5.533, 86.4), (5.550, 84.5), (5.975, 80.9),
    (6.008, 79.0), (6.030, 88.0), (6.088, 85.0), (6.105, 72.8), (5.983, 73.0), (4.961, 75.5),
    (4.716, 75.5), (5.240, 82.3), (4.400, 96.0), (4.760, 98.5), (5.150, 101.0), (5.420, 96.5),
    (5.700, 100.5), (3.850, 96.0), (4.300, 90.0), (5.600, 92.0),
    (4.175, 103.0), (4.180, 102.6), (4.185, 102.2), (4.190, 101.8), (4.195, 101.5), (4.200, 101.2),
    (4.205, 100.9), (4.210, 100.6), (4.215, 100.3),
    (4.760, 114.8), (4.770, 115.3), (4.780, 115.6), (4.790, 116.0), (4.800, 116.3), (4.810, 116.5),
    (4.820, 116.4), (4.830, 116.2), (5.060, 117.0), (5.080, 117.5), (5.100, 117.8), (5.120, 117.4),
    (5.140, 116.6), (4.630, 123.0), (4.631, 120.0), (4.976, 123.0), (4.978, 121.5),
    (5.748, 131.0), (5.749, 130.0), (5.750, 129.0), (5.748, 128.2), (3.795, 133.6), (3.797, 134.5),
]

x_ticks = [4, 4.5, 5, 5.5, 6]
x_tick_labels = ['4', '4.5', '5', '5.5', '6']
y_ticks = [80, 100, 120, 140, 160, 180]

fig = plt.figure(figsize=(9.28, 4.99), dpi=100)
ax = fig.add_axes([0.0754, 0.1052, 0.9246, 0.8748])


def draw(points, **kw):
    arr = np.array(points, dtype=float)
    ax.scatter(arr[:, 0], arr[:, 1], linewidths=0, **kw)


draw(noise_pts, s=3, c='#c4c4c4', zorder=1)
canopy = canopy_west + canopy_slope + canopy_ridge + canopy_middle + canopy_east
draw(canopy, s=4, c='#ff2020', alpha=0.75, zorder=2)
bare = bare_slope + bare_arc_west + bare_arc_east + bare_east
draw(bare, s=5.5, c='#ff0000', alpha=0.85, zorder=2)
draw(ground_pts, s=7, c='#111111', zorder=3)

ax.set_xlim(3.765, 6.135)
ax.set_ylim(71.6, 190.7)
ax.set_xticks(x_ticks)
ax.set_xticklabels(x_tick_labels)
ax.set_yticks(y_ticks)

for side in ('top', 'right'):
    ax.spines[side].set_visible(False)
for side in ('left', 'bottom'):
    ax.spines[side].set_color('#9a9a9a')
    ax.spines[side].set_linewidth(1.2)
ax.tick_params(direction='in', length=5, width=1, color='#9a9a9a',
               labelsize=13, labelcolor='#333333', pad=6)
ax.set_xlabel('Along track distance (km)', fontsize=13.5, color='#222222', labelpad=3)
ax.set_ylabel('Elevation (m)', fontsize=13.5, color='#222222', labelpad=6)

# annotation arrows
arrow_kw = dict(arrowstyle='-|>,head_length=1.3,head_width=0.6', color='black',
                lw=4.5, mutation_scale=26, shrinkA=0, shrinkB=0)


def pointer(apex, tips):
    for tip in tips:
        ax.annotate('', xy=tip, xytext=apex, arrowprops=arrow_kw, zorder=5)
    ax.plot([apex[0] + 0.2 * (tips[0][0] - apex[0]), apex[0], apex[0] + 0.2 * (tips[1][0] - apex[0])],
            [apex[1] + 0.2 * (tips[0][1] - apex[1]), apex[1], apex[1] + 0.2 * (tips[1][1] - apex[1])],
            color='black', lw=4.5, solid_joinstyle='miter', zorder=5)


pointer((5.569, 173.8), [(4.815, 117.9), (6.025, 112.4)])
pointer((4.851, 87.3), [(4.207, 102.6), (5.406, 105.6)])

ax.text(5.522, 180.4, 'Bare-ground areas', fontsize=15, ha='center', va='center', color='black')
ax.text(4.688, 79.9, 'Ground under dense canopy', fontsize=15, ha='center', va='center', color='black')

fig.savefig('out.png', dpi=100, facecolor='white')
